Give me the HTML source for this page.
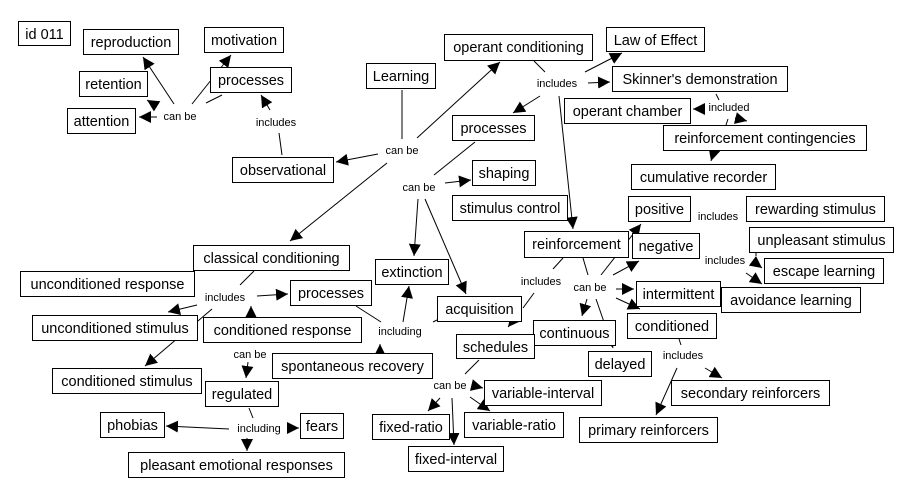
<!DOCTYPE html>
<html><head><meta charset="utf-8"><style>
body{margin:0;background:#fff}
svg{display:block}
.n rect{fill:#fff;stroke:#000;stroke-width:1}
.n text{font-family:"Liberation Sans",Arial,sans-serif;font-size:14.5px;text-anchor:middle;fill:#000}
.l{font-family:"Liberation Sans",Arial,sans-serif;font-size:11px;text-anchor:middle;fill:#000}
line{stroke:#000;stroke-width:1}
line.a{marker-end:url(#ah)}
</style></head><body>
<svg width="902" height="497" viewBox="0 0 902 497" xmlns="http://www.w3.org/2000/svg">
<defs><marker id="ah" viewBox="0 0 10 10" refX="10" refY="5" markerWidth="12" markerHeight="12" markerUnits="userSpaceOnUse" orient="auto"><path d="M0,0 L10,5 L0,10 z" fill="#000"/></marker></defs>
<g id="lines">
<line x1="222" y1="95" x2="206" y2="103"/>
<line class="a" x1="174" y1="104" x2="143" y2="57"/>
<line class="a" x1="192" y1="104" x2="231" y2="55"/>
<line class="a" x1="155" y1="105" x2="147" y2="100"/>
<line class="a" x1="157" y1="117" x2="139" y2="117"/>
<line x1="282" y1="155" x2="279" y2="133"/>
<line class="a" x1="270" y1="110" x2="261" y2="95"/>
<line x1="402" y1="90" x2="402" y2="139"/>
<line class="a" x1="417" y1="138" x2="500" y2="62"/>
<line class="a" x1="378" y1="154" x2="336" y2="162"/>
<line class="a" x1="387" y1="163" x2="290" y2="241"/>
<line x1="475" y1="142" x2="434" y2="175"/>
<line class="a" x1="445" y1="183" x2="471" y2="180"/>
<line class="a" x1="418" y1="199" x2="414" y2="256"/>
<line class="a" x1="425" y1="199" x2="466" y2="294"/>
<line x1="534" y1="61" x2="545" y2="72"/>
<line class="a" x1="585" y1="72" x2="622" y2="53"/>
<line class="a" x1="588" y1="83" x2="610" y2="82"/>
<line class="a" x1="540" y1="96" x2="513" y2="113"/>
<line class="a" x1="559" y1="96" x2="573" y2="229"/>
<line x1="716" y1="94" x2="719" y2="100"/>
<line class="a" x1="703" y1="109" x2="693" y2="109"/>
<line x1="726" y1="125" x2="728" y2="119"/>
<line class="a" x1="735" y1="118" x2="747" y2="121"/>
<line class="a" x1="714" y1="151" x2="711" y2="161"/>
<line x1="563" y1="258" x2="553" y2="269"/>
<line x1="534" y1="293" x2="523" y2="308"/>
<line class="a" x1="520" y1="312" x2="508" y2="327"/>
<line x1="583" y1="258" x2="588" y2="275"/>
<line class="a" x1="601" y1="275" x2="641" y2="224"/>
<line class="a" x1="613" y1="275" x2="639" y2="261"/>
<line class="a" x1="616" y1="289" x2="634" y2="289"/>
<line class="a" x1="616" y1="298" x2="640" y2="309"/>
<line class="a" x1="587" y1="299" x2="582" y2="316"/>
<line class="a" x1="596" y1="299" x2="613" y2="348"/>
<line x1="756" y1="253" x2="756" y2="256"/>
<line class="a" x1="754" y1="262" x2="762" y2="268"/>
<line class="a" x1="746" y1="273" x2="762" y2="284"/>
<line x1="679" y1="339" x2="681" y2="345"/>
<line class="a" x1="705" y1="368" x2="722" y2="378"/>
<line class="a" x1="677" y1="368" x2="656" y2="415"/>
<line x1="254" y1="271" x2="240" y2="285"/>
<line class="a" x1="257" y1="296" x2="288" y2="294"/>
<line class="a" x1="197" y1="305" x2="168" y2="312"/>
<line class="a" x1="212" y1="309" x2="145" y2="366"/>
<line class="a" x1="251" y1="317" x2="251" y2="306"/>
<line class="a" x1="248" y1="362" x2="246" y2="378"/>
<line x1="356" y1="306" x2="381" y2="322"/>
<line class="a" x1="403" y1="322" x2="409" y2="286"/>
<line class="a" x1="380" y1="352" x2="380" y2="344"/>
<line x1="433" y1="322" x2="437" y2="320"/>
<line x1="479" y1="360" x2="465" y2="374"/>
<line class="a" x1="475" y1="386" x2="483" y2="388"/>
<line class="a" x1="470" y1="397" x2="490" y2="411"/>
<line class="a" x1="440" y1="398" x2="428" y2="411"/>
<line class="a" x1="452" y1="398" x2="454" y2="445"/>
<line x1="249" y1="408" x2="253" y2="418"/>
<line class="a" x1="229" y1="429" x2="166" y2="426"/>
<line class="a" x1="287" y1="428" x2="299" y2="428"/>
<line class="a" x1="247" y1="438" x2="247" y2="451"/>
</g>
<g class="n">
<rect x="18.5" y="21.5" width="52" height="24"/><text x="44.5" y="39">id 011</text>
<rect x="83.5" y="29.5" width="95" height="25"/><text x="131" y="47">reproduction</text>
<rect x="204.5" y="27.5" width="79" height="25"/><text x="244" y="45">motivation</text>
<rect x="210.5" y="67.5" width="81" height="25"/><text x="251" y="85">processes</text>
<rect x="79.5" y="71.5" width="68" height="25"/><text x="113.5" y="89">retention</text>
<rect x="67.5" y="108.5" width="68" height="25"/><text x="101.5" y="126">attention</text>
<rect x="232.5" y="157.5" width="101" height="25"/><text x="283" y="175">observational</text>
<rect x="366.5" y="63.5" width="69" height="25"/><text x="401" y="81">Learning</text>
<rect x="444.5" y="34.5" width="148" height="26"/><text x="518.5" y="52">operant conditioning</text>
<rect x="606.5" y="27.5" width="98" height="24"/><text x="655.5" y="45">Law of Effect</text>
<rect x="612.5" y="66.5" width="175" height="25"/><text x="700" y="84">Skinner's demonstration</text>
<rect x="564.5" y="98.5" width="126" height="25"/><text x="627.5" y="116">operant chamber</text>
<rect x="663.5" y="125.5" width="203" height="25"/><text x="765" y="143">reinforcement contingencies</text>
<rect x="631.5" y="164.5" width="144" height="25"/><text x="703.5" y="182">cumulative recorder</text>
<rect x="452.5" y="115.5" width="82" height="25"/><text x="493.5" y="133">processes</text>
<rect x="472.5" y="160.5" width="63" height="25"/><text x="504" y="178">shaping</text>
<rect x="452.5" y="195.5" width="115" height="25"/><text x="510" y="213">stimulus control</text>
<rect x="628.5" y="196.5" width="62" height="25"/><text x="659.5" y="214">positive</text>
<rect x="746.5" y="196.5" width="138" height="25"/><text x="815.5" y="214">rewarding stimulus</text>
<rect x="749.5" y="227.5" width="144" height="25"/><text x="821.5" y="245">unpleasant stimulus</text>
<rect x="524.5" y="231.5" width="104" height="26"/><text x="576.5" y="249">reinforcement</text>
<rect x="632.5" y="233.5" width="67" height="25"/><text x="666" y="251">negative</text>
<rect x="193.5" y="245.5" width="156" height="25"/><text x="271.5" y="263">classical conditioning</text>
<rect x="20.5" y="271.5" width="174" height="25"/><text x="107.5" y="289">unconditioned response</text>
<rect x="290.5" y="280.5" width="81" height="25"/><text x="331" y="298">processes</text>
<rect x="375.5" y="259.5" width="73" height="25"/><text x="412" y="277">extinction</text>
<rect x="437.5" y="296.5" width="84" height="25"/><text x="479.5" y="314">acquisition</text>
<rect x="764.5" y="258.5" width="119" height="25"/><text x="824" y="276">escape learning</text>
<rect x="721.5" y="287.5" width="139" height="25"/><text x="791" y="305">avoidance learning</text>
<rect x="636.5" y="281.5" width="84" height="25"/><text x="678.5" y="299">intermittent</text>
<rect x="627.5" y="313.5" width="89" height="25"/><text x="672" y="331">conditioned</text>
<rect x="32.5" y="315.5" width="165" height="25"/><text x="115" y="333">unconditioned stimulus</text>
<rect x="203.5" y="317.5" width="158" height="25"/><text x="282.5" y="335">conditioned response</text>
<rect x="533.5" y="320.5" width="82" height="25"/><text x="574.5" y="338">continuous</text>
<rect x="456.5" y="334.5" width="78" height="24"/><text x="495.5" y="352">schedules</text>
<rect x="588.5" y="351.5" width="63" height="25"/><text x="620" y="369">delayed</text>
<rect x="272.5" y="353.5" width="160" height="25"/><text x="352.5" y="371">spontaneous recovery</text>
<rect x="52.5" y="368.5" width="149" height="25"/><text x="127" y="386">conditioned stimulus</text>
<rect x="205.5" y="381.5" width="73" height="25"/><text x="242" y="399">regulated</text>
<rect x="484.5" y="380.5" width="117" height="25"/><text x="543" y="398">variable-interval</text>
<rect x="671.5" y="380.5" width="158" height="25"/><text x="750.5" y="398">secondary reinforcers</text>
<rect x="464.5" y="412.5" width="99" height="25"/><text x="514" y="430">variable-ratio</text>
<rect x="372.5" y="414.5" width="77" height="25"/><text x="411" y="432">fixed-ratio</text>
<rect x="579.5" y="417.5" width="138" height="25"/><text x="648.5" y="435">primary reinforcers</text>
<rect x="100.5" y="412.5" width="64" height="25"/><text x="132.5" y="430">phobias</text>
<rect x="300.5" y="413.5" width="43" height="25"/><text x="322" y="431">fears</text>
<rect x="408.5" y="446.5" width="95" height="25"/><text x="456" y="464">fixed-interval</text>
<rect x="128.5" y="452.5" width="216" height="25"/><text x="236.5" y="470">pleasant emotional responses</text>
</g>
<g>
<text class="l" x="180" y="120">can be</text>
<text class="l" x="276" y="126">includes</text>
<text class="l" x="402" y="154">can be</text>
<text class="l" x="557" y="87">includes</text>
<text class="l" x="729" y="111">included</text>
<text class="l" x="419" y="191">can be</text>
<text class="l" x="718" y="220">includes</text>
<text class="l" x="725" y="264">includes</text>
<text class="l" x="225" y="301">includes</text>
<text class="l" x="541" y="285">includes</text>
<text class="l" x="590" y="291">can be</text>
<text class="l" x="400" y="335">including</text>
<text class="l" x="683" y="359">includes</text>
<text class="l" x="250" y="358">can be</text>
<text class="l" x="450" y="389">can be</text>
<text class="l" x="259" y="432">including</text>
</g>
</svg>
</body></html>
